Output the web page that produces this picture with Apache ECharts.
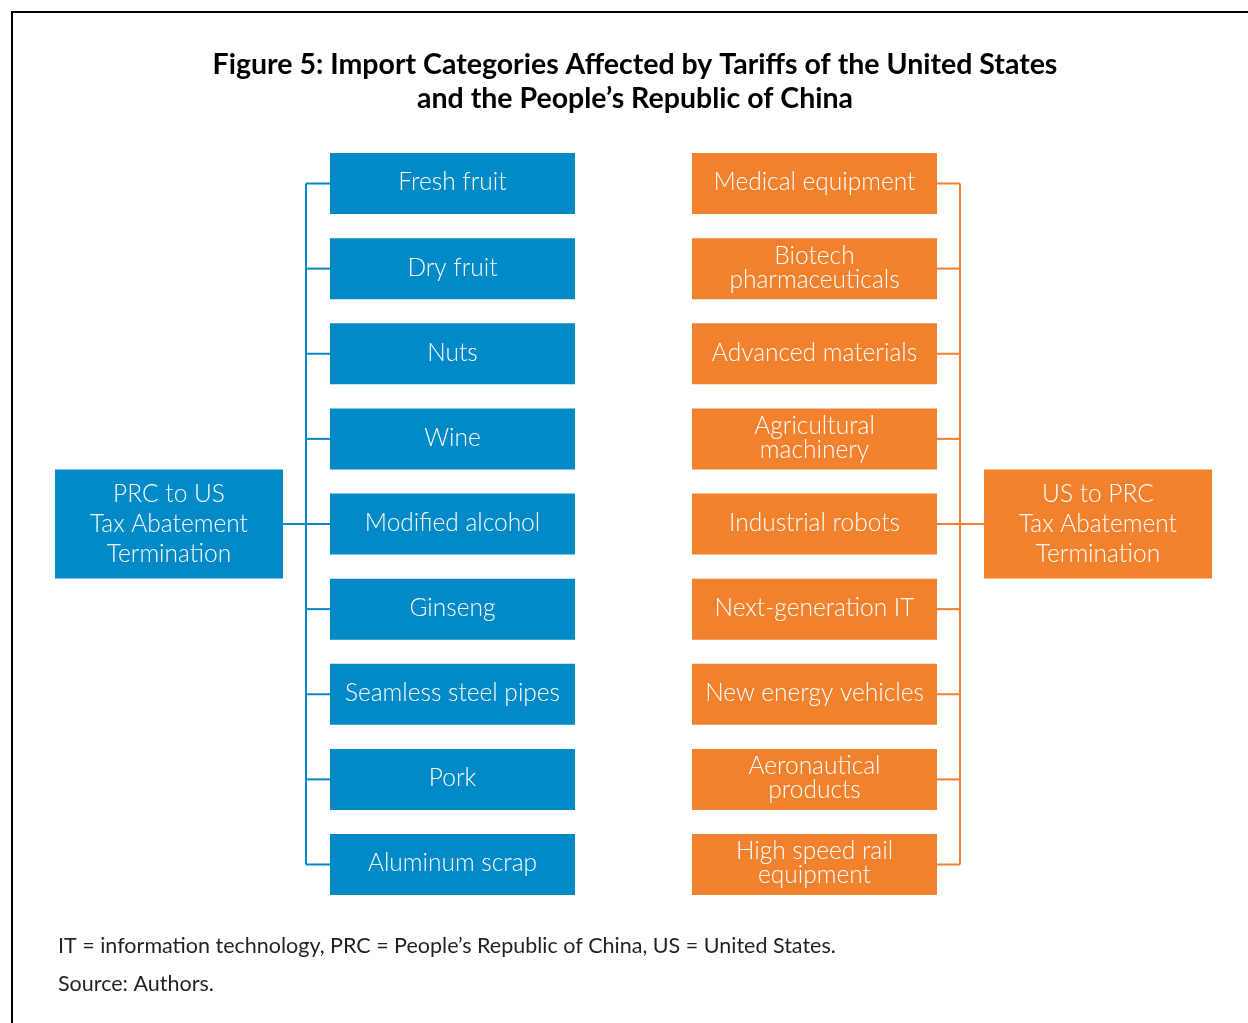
<!DOCTYPE html>
<html>
<head>
<meta charset="utf-8">
<script src="https://cdn.jsdelivr.net/npm/echarts@6/dist/echarts.min.js"></script>
<style>
  html, body { margin: 0; padding: 0; background: #fff; }
  #main { width: 1248px; height: 1023px; }
</style>
</head>
<body>
<div id="main"></div>
<script>
// categories on each side (one row each, top to bottom)
const prcItems = ['Fresh fruit', 'Dry fruit', 'Nuts', 'Wine', 'Modified alcohol', 'Ginseng',
  'Seamless steel pipes', 'Pork', 'Aluminum scrap'];
const usItems = ['Medical equipment', 'Biotech\npharmaceuticals', 'Advanced materials',
  'Agricultural\nmachinery', 'Industrial robots', 'Next-generation IT', 'New energy vehicles',
  'Aeronautical\nproducts', 'High speed rail\nequipment'];
const hubLabels = ['PRC to US\nTax Abatement\nTermination', 'US to PRC\nTax Abatement\nTermination'];
const titleLines = ['Figure 5: Import Categories Affected by Tariffs of the United States',
  'and the People\u2019s Republic of China'];
const noteLines = ['IT = information technology, PRC = People\u2019s Republic of China, US = United States.',
  'Source: Authors.'];

// colours
const blue = '#0189C8';
const orange = '#F2812D';
const FONT = 'Lato, "Open Sans", sans-serif';

// column centres (x axis in px) and trunk positions
const col = { prcHub: 169, prc: 452.5, us: 814.5, usHub: 1098 };
const trunk = { prc: 306, us: 960 };
const box = { w: 245, h: 61, hubW: 228, hubH: 109 };
const midRow = (prcItems.length - 1) / 2;

const chart = echarts.init(document.getElementById('main'));

function itemRender(side) {
  return function (params, api) {
    const row = api.value(1);
    const c = api.coord([api.value(0), row]);
    const color = side === 'prc' ? blue : orange;
    const t = api.coord([trunk[side], row]);
    const edge = side === 'prc' ? c[0] - box.w / 2 : c[0] + box.w / 2;
    return {
      type: 'group',
      children: [
        { type: 'line', shape: { x1: t[0], y1: t[1], x2: edge, y2: c[1] },
          style: { stroke: color, lineWidth: 2 } },
        { type: 'rect', shape: { x: c[0] - box.w / 2, y: c[1] - box.h / 2, width: box.w, height: box.h },
          style: { fill: color } },
        { type: 'text', style: { text: api.value(2), x: c[0], y: c[1] - 1, align: 'center',
          verticalAlign: 'middle', fill: '#fff', fontFamily: FONT, fontWeight: 300,
          fontSize: 24.5, lineHeight: 24 } }
      ]
    };
  };
}

function hubRender(params, api) {
  const side = params.dataIndex === 0 ? 'prc' : 'us';
  const color = side === 'prc' ? blue : orange;
  const row = api.value(1);
  const c = api.coord([api.value(0), row]);
  const tTop = api.coord([trunk[side], 0]);
  const tBot = api.coord([trunk[side], prcItems.length - 1]);
  const edge = side === 'prc' ? c[0] + box.hubW / 2 : c[0] - box.hubW / 2;
  return {
    type: 'group',
    children: [
      { type: 'line', shape: { x1: tTop[0], y1: tTop[1], x2: tBot[0], y2: tBot[1] },
        style: { stroke: color, lineWidth: 2 } },
      { type: 'line', shape: { x1: edge, y1: c[1], x2: tTop[0], y2: c[1] },
        style: { stroke: color, lineWidth: 2 } },
      { type: 'rect', shape: { x: c[0] - box.hubW / 2, y: c[1] - box.hubH / 2, width: box.hubW, height: box.hubH },
        style: { fill: color } },
      { type: 'text', style: { text: api.value(2), x: c[0], y: c[1], align: 'center',
        verticalAlign: 'middle', fill: '#fff', fontFamily: FONT, fontWeight: 300,
        fontSize: 24.5, lineHeight: 30 } }
    ]
  };
}

const option = {
  animation: false,
  backgroundColor: '#fff',
  title: [
    {
      text: titleLines.join('\n'),
      left: 635,
      textAlign: 'center',
      top: 48,
      padding: 0,
      textStyle: { fontFamily: FONT, fontWeight: 'bold', fontSize: 28.5, lineHeight: 34, color: '#000' }
    },
    {
      text: noteLines.join('\n'),
      left: 58,
      top: 927,
      padding: 0,
      textStyle: { fontFamily: FONT, fontWeight: 'normal', fontSize: 21.5, lineHeight: 38, color: '#231f20' }
    }
  ],
  graphic: [
    { type: 'rect', shape: { x: 12, y: 12, width: 1300, height: 1100 },
      style: { fill: 'none', stroke: '#000', lineWidth: 2 }, z: 100 }
  ],
  grid: { left: 0, right: 0, top: 183.5, bottom: 158.5 },
  xAxis: { type: 'value', min: 0, max: 1248, show: false },
  yAxis: { type: 'value', min: 0, max: prcItems.length - 1, inverse: true, show: false },
  series: [
    {
      type: 'custom',
      renderItem: itemRender('prc'),
      data: prcItems.map((name, i) => [col.prc, i, name])
    },
    {
      type: 'custom',
      renderItem: itemRender('us'),
      data: usItems.map((name, i) => [col.us, i, name])
    },
    {
      type: 'custom',
      renderItem: hubRender,
      data: [[col.prcHub, midRow, hubLabels[0]], [col.usHub, midRow, hubLabels[1]]]
    }
  ]
};

chart.setOption(option);
</script>
</body>
</html>
